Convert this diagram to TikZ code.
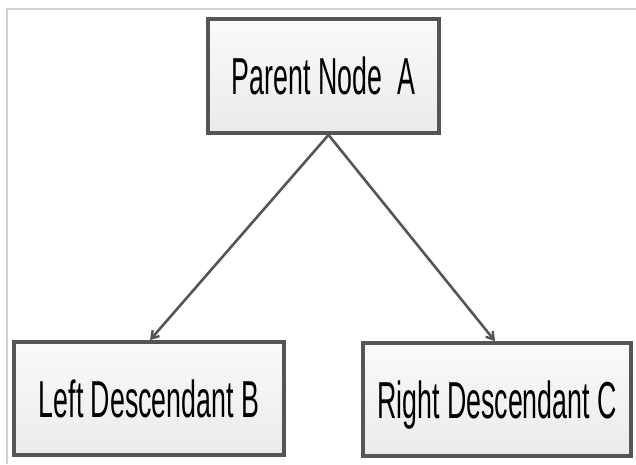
\documentclass[tikz,border=0pt]{standalone}
\usepackage{fontspec}
\setmainfont{Liberation Sans}[FakeStretch=0.515]
\usetikzlibrary{arrows.meta,calc}
\definecolor{edgegray}{HTML}{555555}
\definecolor{framegray}{HTML}{D2D2D2}
\tikzset{
  treebox/.style={draw=edgegray, line width=3.8pt, inner sep=0pt,
    top color=white!98!black, bottom color=white!92!black,
    font=\fontsize{52}{60}\selectfont, text height=37pt, text depth=0pt},
  link/.style={draw=edgegray, line width=2.6pt,
    -{Straight Barb[length=7pt,width=9pt,line width=2.4pt]}}
}
\begin{document}
\begin{tikzpicture}[x=1pt,y=-1pt]
  % page area and the thin frame at its top and left
  \fill[white] (0,0) rectangle (636,464);
  \useasboundingbox (0,0) rectangle (636,464);
  \draw[framegray, line width=1.5pt] (7,464) -- (7,9) -- (636,9);

  % the three boxes
  \node[treebox, minimum width=231pt, minimum height=114pt] (A) at (323.5,76) {Parent Node\ \ A};
  \node[treebox, minimum width=270pt, minimum height=113pt] (B) at (149,398.5) {Left Descendant B};
  \node[treebox, minimum width=268pt, minimum height=113pt] (C) at (497,399.5) {Right Descendant C};

  % connectors from the parent to both children
  \coordinate (apex) at ($(A.south)+(5,0)$);
  \draw[link] (apex) -- ($(B.north)+(1,0)$);
  \draw[link] (apex) -- ($(C.north)+(-2,0)$);
\end{tikzpicture}
\end{document}
